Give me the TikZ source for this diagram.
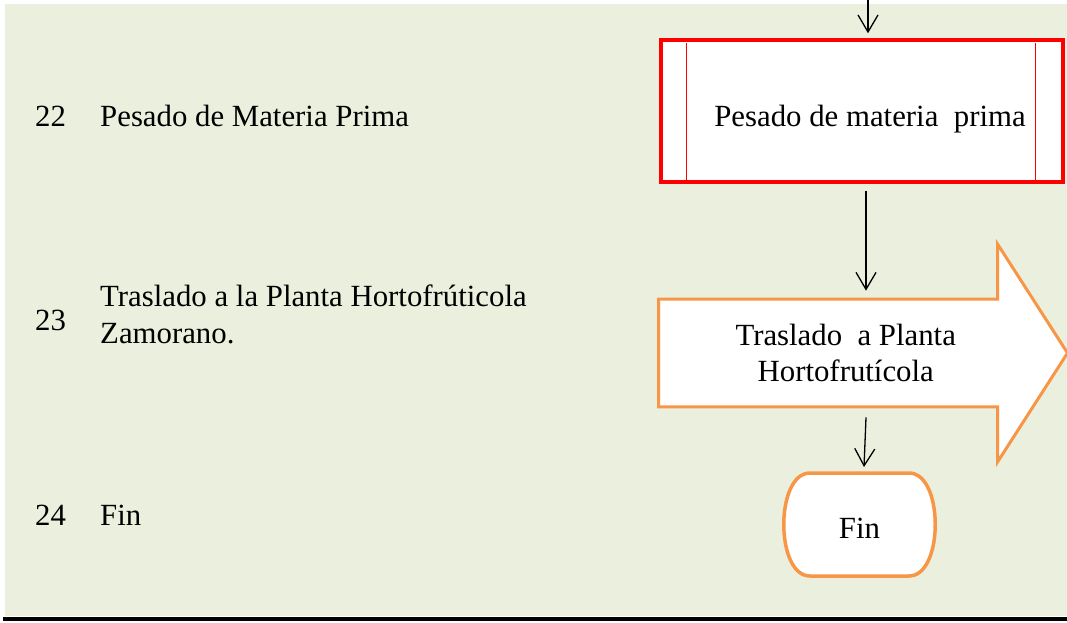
\documentclass[tikz,border=0pt]{standalone}
\usepackage{fontspec}
\setmainfont{Liberation Serif}
\usetikzlibrary{shapes,arrows.meta,positioning,backgrounds}

\definecolor{bggreen}{HTML}{EBF0DE}
\definecolor{orangeline}{HTML}{F79646}

\begin{document}
\begin{tikzpicture}[
    x=1pt, y=-1pt,
    every node/.style={font=\fontsize{30.8}{36}\selectfont, inner sep=0pt},
    rowtext/.style={anchor=base west},
    process/.style={rectangle, draw=red, fill=white, line width=3.5pt, minimum width=402pt, minimum height=142pt,
        text height=30pt, text depth=0pt},
    subline/.style={draw=red, line width=1.2pt},
    transport/.style={single arrow, draw=orangeline, fill=white, line width=3pt, align=center,
        inner xsep=10pt, inner ysep=23.5pt, minimum height=409pt,
        single arrow head extend=55pt, single arrow tip angle=114.6, single arrow head indent=0pt},
    terminal/.style={draw=orangeline, fill=white, line width=3.5pt},
    flow/.style={draw, line width=1.3pt, -{Straight Barb[length=17pt,width=20pt]}}
]
\useasboundingbox (0,0) rectangle (1067,622);

% Left column
\node[rowtext] (num22) at (35,126) {22};
\node[rowtext] (step22) at (100,126) {Pesado de Materia Prima};
\node[rowtext] (num23) at (35,330) {23};
\node[rowtext] (step23) at (100,306) {Traslado a la Planta Hortofrúticola};
\node[rowtext] (step23b) at (100,343) {Zamorano.};
\node[rowtext] (num24) at (35,525) {24};
\node[rowtext] (step24) at (100,525) {Fin};

% Right column
\coordinate (start) at (868,0);
\node[process] (pesado) at (862,111) {\hspace*{16pt}Pesado de materia\ \ prima};
\draw[subline] ([xshift=27pt,yshift=-5pt]pesado.north west) -- ([xshift=27pt,yshift=2pt]pesado.south west);
\draw[subline] ([xshift=-29pt,yshift=-5pt]pesado.north east) -- ([xshift=-29pt,yshift=2pt]pesado.south east);

\node[transport, anchor=tail] (traslado) at (657,353) {Traslado\ \ a Planta\\Hortofrutícola};

\node[minimum width=151pt, minimum height=103pt, outer sep=0pt, text height=27pt, text depth=0pt] (fin) at (859.5,524.5) {Fin};

\draw[flow] (start) -- ([yshift=5pt]start |- pesado.north);
\draw[flow] ([xshift=4pt,yshift=-7pt]pesado.south) -- ([xshift=4pt,yshift=7pt]pesado.south |- traslado.north);
\draw[flow] ([xshift=4pt,yshift=-9pt]pesado.south |- traslado.south) -- ([xshift=4.5pt,yshift=6pt]fin.north);

\begin{scope}[on background layer]
    \fill[bggreen] (5,4) rectangle (1067,616);
    \fill[black] (3,617) rectangle (1067,621);
    \path[terminal] ([xshift=26pt]fin.north west) -- ([xshift=-26pt]fin.north east)
        .. controls ([xshift=9pt]fin.north east) and ([xshift=9pt]fin.south east) .. ([xshift=-26pt]fin.south east)
        -- ([xshift=26pt]fin.south west)
        .. controls ([xshift=-9pt]fin.south west) and ([xshift=-9pt]fin.north west) .. cycle;
\end{scope}

\end{tikzpicture}
\end{document}
